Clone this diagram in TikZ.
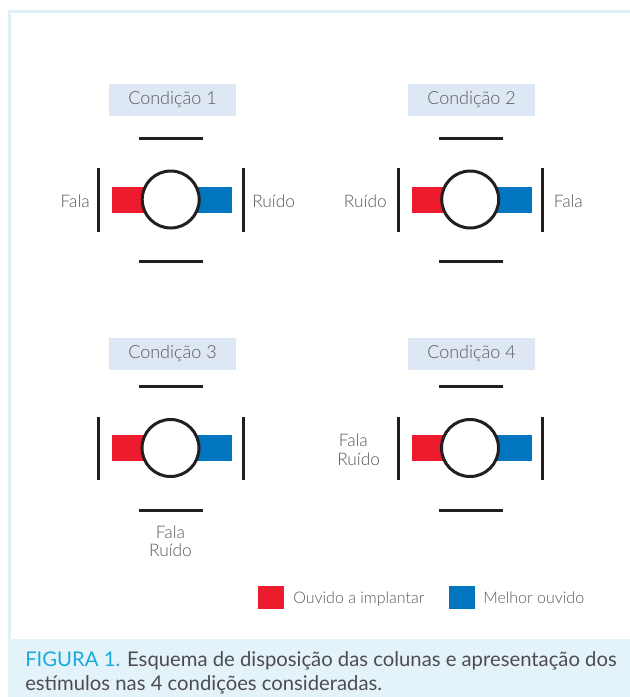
\documentclass[tikz,border=0pt]{standalone}
\usepackage{fontspec}
\setmainfont{Lato Light}
\newfontfamily\capfont{Lato}
\definecolor{redc}{RGB}{237,27,46}
\definecolor{bluec}{RGB}{1,117,190}
\definecolor{linec}{RGB}{35,31,32}
\definecolor{txtc}{RGB}{88,89,91}
\definecolor{captc}{RGB}{77,77,80}
\definecolor{lblbg}{RGB}{221,232,244}
\definecolor{capbg}{RGB}{228,243,249}
\definecolor{framec}{RGB}{224,240,247}
\definecolor{cyanc}{RGB}{24,170,218}
\tikzset{
  bar/.style={line width=2.25pt, draw=linec},
  ring/.style={line width=2.25pt, draw=linec, fill=white},
  lbl/.style={fill=lblbg, text=txtc, minimum width=95.25pt, minimum height=24pt, inner sep=0pt, font=\fontsize{13.5}{16}\selectfont},
  side/.style={text=txtc, inner sep=0pt, font=\fontsize{13}{16}\selectfont},
  legtxt/.style={text=txtc, inner sep=0pt, font=\fontsize{12}{14}\selectfont},
  captxt/.style={text=captc, inner sep=0pt, font=\capfont\fontsize{15.2}{18}\selectfont},
}
\newcommand\drawcond[6]{%
  \fill[redc] (#2-58.5,#3-13) rectangle (#2,#3+13);
  \fill[bluec] (#2,#3-13) rectangle (#2+61.5,#3+13);
  \draw[ring] (#2,#3) circle[radius=28.5];
  \draw[bar] (#2-72,#3-31.5) -- (#2-72,#3+32);
  \draw[bar] (#2+72.5,#3-31.5) -- (#2+72.5,#3+32);
  \draw[bar] (#2-31.5,#3-61.5) -- (#2+32.5,#3-61.5);
  \draw[bar] (#2-31.5,#3+62) -- (#2+32.5,#3+62);
  \node[lbl] (#1) at (#4,#5) {Condição #6};
}
\begin{document}
\begin{tikzpicture}[x=0.75pt,y=-0.75pt]
\useasboundingbox (0,0) rectangle (630,697);
\clip (0,0) rectangle (630,697);
\fill[white] (0,0) rectangle (630,697);
\draw[framec, line width=2.25pt] (9.5,11.5) rectangle (650,700);
\fill[capbg] (8,639) rectangle (640,700);

\drawcond{c1}{170.7}{199.5}{172.5}{100}{1}
\drawcond{c2}{470.2}{199.5}{471.5}{100}{2}
\drawcond{c3}{170.5}{448}{172.5}{354}{3}
\drawcond{c4}{470}{448}{471.5}{354}{4}

\node[side, anchor=base east] (f1) at (90,207.5) {Fala};
\node[side, anchor=base west] (r1) at (252,207.5) {Ruído};
\node[side, anchor=base east] (r2) at (387,207.5) {Ruído};
\node[side, anchor=base west] (f2) at (553.5,207.5) {Fala};
\node[side, anchor=base] (f3) at (170.5,538.5) {Fala};
\node[side, anchor=base] (r3) at (170.5,556) {Ruído};
\node[side, anchor=base west] (f4) at (338.5,446) {Fala};
\node[side, anchor=base west] (r4) at (337,465.5) {Ruído};

\fill[redc] (258,586) rectangle (284,608.5);
\node[legtxt, anchor=base west] (l1) at (293,603.3) {Ouvido a implantar};
\fill[bluec] (449,586) rectangle (475,608.5);
\node[legtxt, anchor=base west] (l2) at (483,603.3) {Melhor ouvido};

\node[captxt, anchor=base west] (cap1) at (25,666.7) {\textcolor{cyanc}{FIGURA 1.} Esquema de disposição das colunas e apresentação dos};
\node[captxt, anchor=base west] (cap2) at (25,690.5) {estímulos nas 4 condições consideradas.};
\end{tikzpicture}
\end{document}
